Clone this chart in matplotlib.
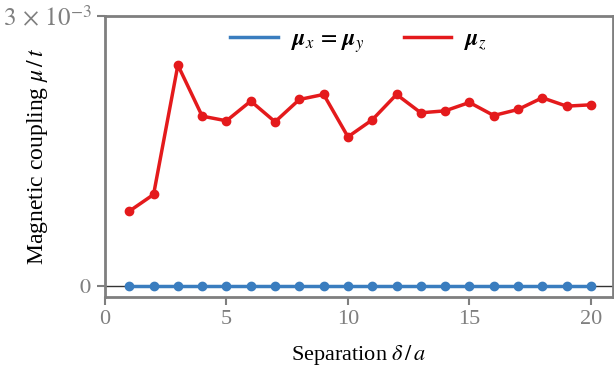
import numpy as np
import matplotlib
matplotlib.use("Agg")
import matplotlib.pyplot as plt
from matplotlib.lines import Line2D

plt.rcParams['font.family'] = ['Liberation Serif', 'DejaVu Serif']
plt.rcParams['mathtext.fontset'] = 'stix'

# coupling vs separation
separation = list(range(1, 21))
mu_xy = [0.0] * 20
mu_z = [0.833e-3, 1.019e-3, 2.456e-3, 1.889e-3, 1.837e-3, 2.056e-3, 1.826e-3,
        2.074e-3, 2.130e-3, 1.659e-3, 1.848e-3, 2.130e-3, 1.926e-3, 1.948e-3,
        2.041e-3, 1.896e-3, 1.963e-3, 2.093e-3, 2.000e-3, 2.015e-3]

xticks = [0, 5, 10, 15, 20]
yticks = [0, 3e-3]
ytick_labels = ['$0$', r'$3\,\times\,10^{-3}$']

blue = '#3a7dbf'
red = '#e41a1c'
gray = '#7f7f7f'

fig = plt.figure(figsize=(6.14, 3.75), dpi=100)
ax = fig.add_axes([0.171, 0.208, 0.827, 0.749])

ax.axhline(0, color='#333333', lw=1.0, zorder=1)
ax.plot(separation, mu_xy, color=blue, lw=2.5, marker='o', ms=6, zorder=3)
ax.plot(separation, mu_z, color=red, lw=2.5, marker='o', ms=6, zorder=3)

ax.set_xlim(0, 20.9)
ax.set_ylim(-0.00012, 0.003)
ax.set_xticks(xticks)
ax.set_yticks(yticks)
ax.set_yticklabels(ytick_labels)

for s in ax.spines.values():
    s.set_color(gray)
    s.set_linewidth(2)
ax.tick_params(colors=gray, labelcolor=gray, width=1.5, length=6,
               labelsize=16)
ax.get_yticklabels()[1].set_fontsize(18)

ax.set_xlabel(r'Separation $\delta\,/\,a$', fontsize=16, labelpad=10)
ax.set_ylabel(r'Magnetic coupling $\mu\,/\,t$', fontsize=17)
ax.yaxis.set_label_coords(-0.108, 0.5)

# legend shows plain line handles
handles = [Line2D([], [], color=blue, lw=2.5), Line2D([], [], color=red, lw=2.5)]
labels = [r'$\boldsymbol{\mu}_x\,=\,\boldsymbol{\mu}_y$', r'$\boldsymbol{\mu}_z$']
ax.legend(handles, labels, loc='upper center', ncol=2, frameon=False,
          fontsize=17, handlelength=2.0, handletextpad=0.55,
          columnspacing=1.7, bbox_to_anchor=(0.5, 1.03))

fig.savefig('out.png', dpi=100)
